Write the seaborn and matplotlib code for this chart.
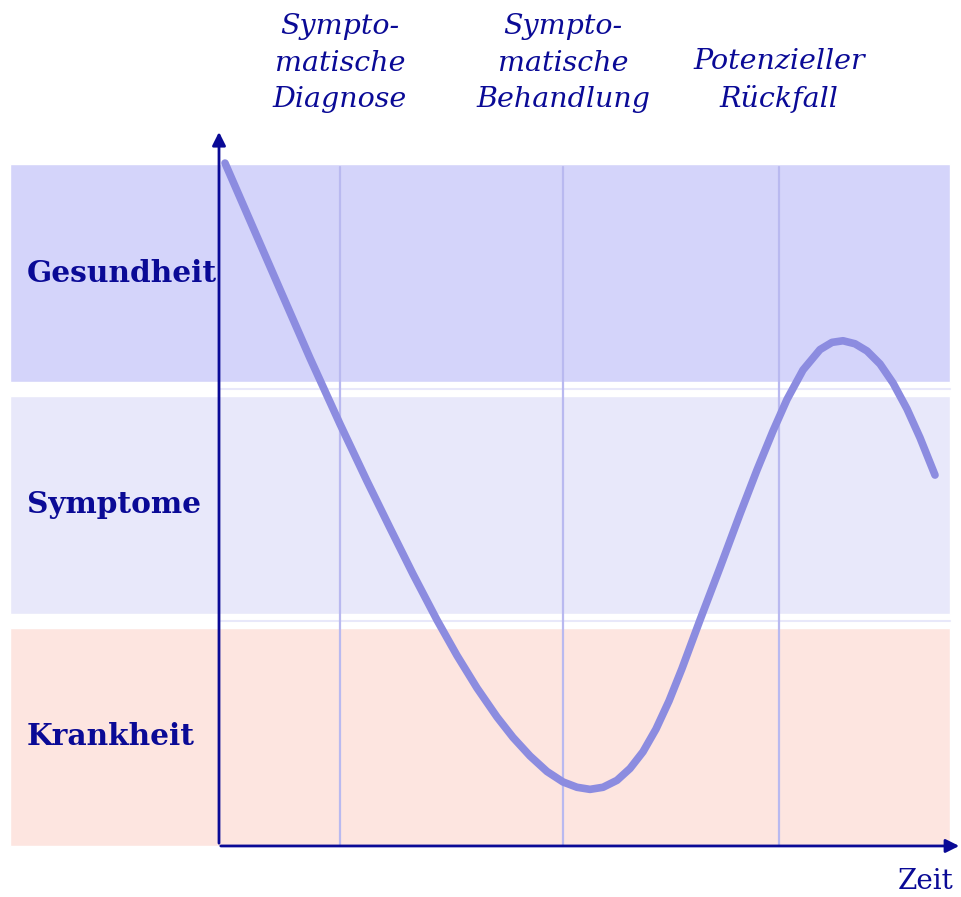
import numpy as np
import pandas as pd
import matplotlib
matplotlib.use("Agg")
import matplotlib.pyplot as plt
import seaborn as sns

sns.set_theme(style="white")
plt.rcParams["font.family"] = ["DejaVu Serif"]

# health states (bands), bottom to top
states = ["Krankheit", "Symptome", "Gesundheit"]
state_levels = [0.0, 1.0, 2.0]
state_colors = ["#fde5e0", "#e8e8fa", "#d4d4fa"]

# phases marked on the time axis
phase_labels = ["Sympto-\nmatische\nDiagnose", "Sympto-\nmatische\nBehandlung", "Potenzieller\nRückfall"]
phase_times = [1.21, 3.44, 5.60]

# course of the illness
time = [0.06, 0.61, 0.91, 1.21, 1.48, 1.71, 1.94, 2.18, 2.38, 2.58, 2.78, 2.94,
        3.11, 3.28, 3.44, 3.58, 3.71, 3.84, 3.98, 4.11, 4.24, 4.37, 4.50, 4.63,
        4.81, 5.01, 5.21, 5.38, 5.54, 5.68, 5.84, 6.01, 6.13, 6.24, 6.36, 6.48,
        6.61, 6.74, 6.88, 7.01, 7.16]
health = [2.944, 2.399, 2.103, 1.819, 1.573, 1.371, 1.172, 0.974, 0.821, 0.681, 0.556, 0.468,
          0.388, 0.321, 0.276, 0.253, 0.244, 0.253, 0.283, 0.334, 0.406, 0.504, 0.625, 0.765,
          0.974, 1.200, 1.431, 1.621, 1.789, 1.925, 2.052, 2.140, 2.171, 2.178, 2.165, 2.134,
          2.078, 1.996, 1.884, 1.760, 1.599]

df = pd.DataFrame({"Zeit": time, "Zustand": health})

navy = "#0a0a96"

fig = plt.figure(figsize=(9.62, 8.97), dpi=100)
ax = fig.add_axes([0, 0, 1, 1])
ax.set_xlim(-2.19, 7.43)
ax.set_ylim(-0.22, 3.647)
ax.axis("off")

# bands
ax.barh([l + 0.47 for l in state_levels], width=9.4, left=-2.09, height=0.94,
        color=state_colors, zorder=1)
for l in state_levels[1:]:
    ax.plot([0.01, 7.31], [l - 0.03, l - 0.03], color="#e8e8fa", lw=1.5, zorder=1.5)
for name, l in zip(states, state_levels):
    ax.text(-1.92, l + 0.47, name, fontsize=21.3, fontweight="bold", color=navy,
            ha="left", va="center", zorder=5)

# phase lines and labels
for t, lab in zip(phase_times, phase_labels):
    ax.plot([t, t], [0, 2.927], color="#b9b9f0", lw=1.6, zorder=2)
    ax.text(t, 3.185, lab, fontsize=20.5, style="italic", color=navy,
            ha="center", va="baseline", linespacing=1.45)

# curve
sns.lineplot(data=df, x="Zeit", y="Zustand", sort=False, ax=ax, color="#8c8ce0",
             lw=5.5, solid_capstyle="round", solid_joinstyle="round", zorder=3)

# axes arrows
ax.annotate("", xy=(0, 3.09), xytext=(0, 0),
            arrowprops=dict(arrowstyle="-|>", color=navy, lw=2, mutation_scale=20), zorder=4)
ax.annotate("", xy=(7.43, 0), xytext=(-0.01, 0),
            arrowprops=dict(arrowstyle="-|>", color=navy, lw=2, mutation_scale=20), zorder=4)
ax.text(7.07, -0.155, "Zeit", fontsize=20, color=navy, ha="center", va="center")

fig.savefig("out.png", dpi=100)
